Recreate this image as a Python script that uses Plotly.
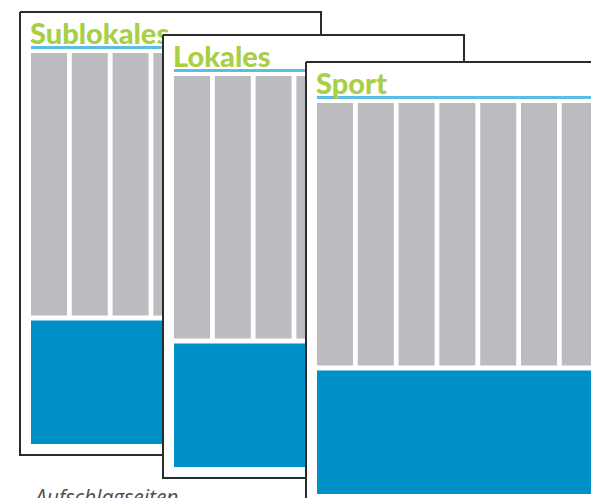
import plotly.graph_objects as go

# ---- content ----
titles = ["Sublokales", "Lokales", "Sport"]
columns_per_page = [7, 7, 7]
caption = "Aufschlagseiten"

# ---- layout (pixel space of the 591x498 canvas) ----
W, H = 591, 498
page_left = [20, 163, 306]
page_top = [12, 35, 62]
PAGE_W, PAGE_H = 301, 443
INNER_L = 11
COL_W, COL_PITCH = 36, 40.8
RULE_Y0, RULE_Y1 = 34, 37
COL_Y0, COL_Y1 = 41, 303.5
BLOCK_Y0, BLOCK_Y1 = 308.5, 432
INNER_R = 290
TITLE_BASE = 39

BORDER = "#2b2b2b"
RULE = "#5bbde3"
COL = "#bbbcc0"
BLOCK = "#0090c8"
GREEN = "#a8cf45"


def rect(x0, y0, x1, y1):
    return [x0, x1, x1, x0, x0, None], [y0, y0, y1, y1, y0, None]


fig = go.Figure()
for title, ncol, px, py in zip(titles, columns_per_page, page_left, page_top):
    # page sheet
    xs, ys = rect(px, py, px + PAGE_W, py + PAGE_H)
    fig.add_trace(go.Scatter(x=xs, y=ys, mode="lines", fill="toself",
                             fillcolor="white", line=dict(color=BORDER, width=2),
                             hoverinfo="skip", showlegend=False))
    # rule under title
    xs, ys = rect(px + INNER_L, py + RULE_Y0, px + INNER_R, py + RULE_Y1)
    fig.add_trace(go.Scatter(x=xs, y=ys, mode="lines", fill="toself",
                             fillcolor=RULE, line=dict(width=0),
                             hoverinfo="skip", showlegend=False))
    # text columns
    cx, cy = [], []
    for i in range(ncol):
        x0 = px + INNER_L + i * COL_PITCH
        a, b = rect(x0, py + COL_Y0, x0 + COL_W, py + COL_Y1)
        cx += a
        cy += b
    fig.add_trace(go.Scatter(x=cx, y=cy, mode="lines", fill="toself",
                             fillcolor=COL, line=dict(width=0),
                             hoverinfo="skip", showlegend=False))
    # image / ad block
    xs, ys = rect(px + INNER_L, py + BLOCK_Y0, px + INNER_R, py + BLOCK_Y1)
    fig.add_trace(go.Scatter(x=xs, y=ys, mode="lines", fill="toself",
                             fillcolor=BLOCK, line=dict(width=0),
                             hoverinfo="skip", showlegend=False))
    # title
    fig.add_trace(go.Scatter(x=[px + INNER_L - 1], y=[py + TITLE_BASE], mode="text",
                             text=[title], textposition="top right",
                             textfont=dict(family="Lato", size=29, color=GREEN, weight=900),
                             hoverinfo="skip", showlegend=False, cliponaxis=False))

fig.add_annotation(x=31, y=481, xref="x", yref="y", text=caption, showarrow=False,
                   xanchor="left", yanchor="top",
                   font=dict(family="Open Sans", size=21, color="#4d4d4d",
                             style="italic", weight=400))

fig.update_layout(width=W, height=H, margin=dict(l=0, r=0, t=0, b=0),
                  paper_bgcolor="white", plot_bgcolor="white",
                  xaxis=dict(range=[0, W], visible=False, fixedrange=True),
                  yaxis=dict(range=[H, 0], visible=False, fixedrange=True))
fig.write_html("out.html", config={"displayModeBar": False},
               post_script="document.body.style.margin='0';document.body.style.overflow='hidden';")
